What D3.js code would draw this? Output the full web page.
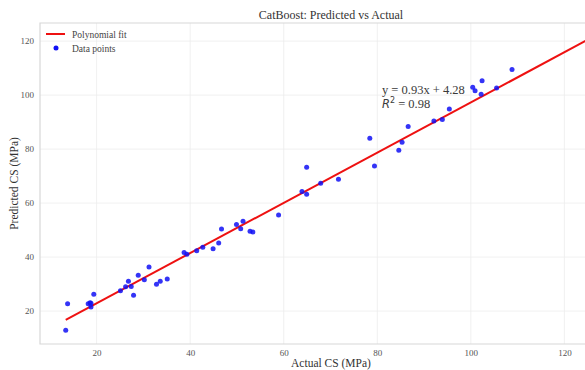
<!DOCTYPE html>
<html>
<head>
<meta charset="utf-8">
<script src="https://cdn.jsdelivr.net/npm/d3@7"></script>
<style>
  body { margin: 0; background: #fff; }
  svg { display: block; font-family: "Liberation Serif", "DejaVu Serif", serif; }
</style>
</head>
<body>
<div id="chart"></div>
<script>
// Values
let actualCS = [13.4, 13.8, 18.2, 18.6, 18.8, 18.8, 19.4, 25.1, 26.2, 26.8,
    27.4, 27.9, 28.9, 30.2, 31.2, 32.8, 33.6, 35.1, 38.7, 39.3,
    41.4, 42.7, 44.9, 46.1, 46.7, 49.9, 50.8, 51.3, 52.8, 53.4,
    58.9, 63.9, 64.9, 64.9, 67.9, 71.7, 78.4, 79.4, 84.6, 85.3,
    86.6, 92.1, 93.9, 95.4, 100.4, 100.9, 102.4, 102.2, 105.5, 108.8];
let predictedCS = [12.9, 22.7, 22.7, 23.1, 22.9, 21.5, 26.2, 27.5, 29.0, 31.0,
    29.1, 25.9, 33.3, 31.6, 36.3, 29.9, 31.0, 31.9, 41.7, 41.0,
    42.3, 43.6, 43.1, 45.2, 50.4, 52.1, 50.5, 53.3, 49.6, 49.3,
    55.6, 64.3, 63.3, 73.3, 67.3, 68.8, 84.0, 73.7, 79.6, 82.5,
    88.4, 90.4, 91.0, 94.8, 102.9, 101.6, 105.3, 100.3, 102.6, 109.5];
let xTicks = [20, 40, 60, 80, 100, 120];
let yTicks = [20, 40, 60, 80, 100, 120];
let slope = 0.93, intercept = 4.28, rSquared = 0.98;
let fitRange = [13.4, 130];

let W = 585, H = 370;
let margin = {top: 23, right: 0, bottom: 26, left: 40},
    width = W - margin.left - margin.right,
    height = H - margin.top - margin.bottom;
// the original figure continues past the right edge of the picture
let centerX = 331;

let svg = d3.select("#chart").append("svg")
    .attr("width", W)
    .attr("height", H);

let x = d3.scaleLinear().domain([7.9, 124.4]).range([0, width]);
let y = d3.scaleLinear().domain([7.8, 126.7]).range([height, 0]);

let g = svg.append("g")
    .attr("transform", "translate(" + margin.left + "," + margin.top + ")");

svg.append("defs").append("clipPath").attr("id", "plotClip")
    .append("rect").attr("width", width).attr("height", height);

// Grid lines
g.append("g").selectAll("line.vg")
    .data(xTicks).enter().append("line")
    .attr("x1", d => x(d)).attr("x2", d => x(d))
    .attr("y1", 0).attr("y2", height)
    .attr("stroke", "#ececec").attr("stroke-width", 0.8);
g.append("g").selectAll("line.hg")
    .data(yTicks).enter().append("line")
    .attr("y1", d => y(d)).attr("y2", d => y(d))
    .attr("x1", 0).attr("x2", width)
    .attr("stroke", "#ececec").attr("stroke-width", 0.8);

// Frame (right side is cut off in the reference)
g.append("path")
    .attr("d", "M" + width + ",0H0V" + height + "H" + width)
    .attr("fill", "none")
    .attr("stroke", "#d8d8d8")
    .attr("stroke-width", 1.2);

// Axes
let xAxis = g.append("g")
    .attr("transform", "translate(0," + height + ")")
    .call(d3.axisBottom(x).tickValues(xTicks).tickSize(0).tickPadding(6));
let yAxis = g.append("g")
    .call(d3.axisLeft(y).tickValues(yTicks).tickSize(0).tickPadding(6));
[xAxis, yAxis].forEach(a => {
    a.select(".domain").remove();
    a.selectAll("text")
        .attr("fill", "#555")
        .style("font-size", "9px")
        .style("font-family", "Liberation Serif, serif");
});

// Fit line
let plot = g.append("g").attr("clip-path", "url(#plotClip)");
plot.append("line")
    .attr("x1", x(fitRange[0])).attr("y1", y(slope * fitRange[0] + intercept))
    .attr("x2", x(fitRange[1])).attr("y2", y(slope * fitRange[1] + intercept))
    .attr("stroke", "#ee1111")
    .attr("stroke-width", 2);

// Data points
plot.selectAll("circle")
    .data(d3.zip(actualCS, predictedCS))
    .enter().append("circle")
    .attr("cx", d => x(d[0]))
    .attr("cy", d => y(d[1]))
    .attr("r", 2.5)
    .attr("fill", "#1010f5")
    .attr("fill-opacity", 0.85);

// Equation annotation
let ann = g.append("g").attr("fill", "#3a3a3a");
ann.append("text")
    .attr("x", x(81)).attr("y", y(100.4))
    .style("font-size", "12.5px")
    .text("y = " + slope.toFixed(2) + "x + " + intercept.toFixed(2));
let r2 = ann.append("text")
    .attr("x", x(81)).attr("y", y(95.2))
    .style("font-size", "12.5px");
r2.append("tspan").style("font-family", "DejaVu Sans, sans-serif")
    .style("font-style", "italic").style("font-size", "11.5px").text("R");
r2.append("tspan").attr("dy", -5).style("font-family", "DejaVu Sans, sans-serif")
    .style("font-size", "8px").text("2");
r2.append("tspan").attr("dy", 5).text(" = " + rSquared.toFixed(2));

// Legend
let legend = g.append("g").attr("transform", "translate(6,11)");
legend.append("line")
    .attr("x1", 0).attr("x2", 19).attr("y1", 0).attr("y2", 0)
    .attr("stroke", "#ee1111").attr("stroke-width", 2);
legend.append("text").attr("x", 26).attr("y", 3.5)
    .attr("fill", "#444").style("font-size", "9.5px").text("Polynomial fit");
legend.append("circle").attr("cx", 10).attr("cy", 14).attr("r", 2.5)
    .attr("fill", "#1010f5");
legend.append("text").attr("x", 26).attr("y", 17.5)
    .attr("fill", "#444").style("font-size", "9.5px").text("Data points");

// Title and axis labels
svg.append("text")
    .attr("x", centerX).attr("y", 19)
    .attr("text-anchor", "middle")
    .attr("fill", "#333")
    .style("font-size", "12px")
    .text("CatBoost: Predicted vs Actual");
svg.append("text")
    .attr("x", centerX).attr("y", 367)
    .attr("text-anchor", "middle")
    .attr("fill", "#333")
    .style("font-size", "11.5px")
    .text("Actual CS (MPa)");
svg.append("text")
    .attr("transform", "translate(18," + (margin.top + height / 2) + ") rotate(-90)")
    .attr("text-anchor", "middle")
    .attr("fill", "#333")
    .style("font-size", "11.5px")
    .text("Predicted CS (MPa)");
</script>
</body>
</html>
